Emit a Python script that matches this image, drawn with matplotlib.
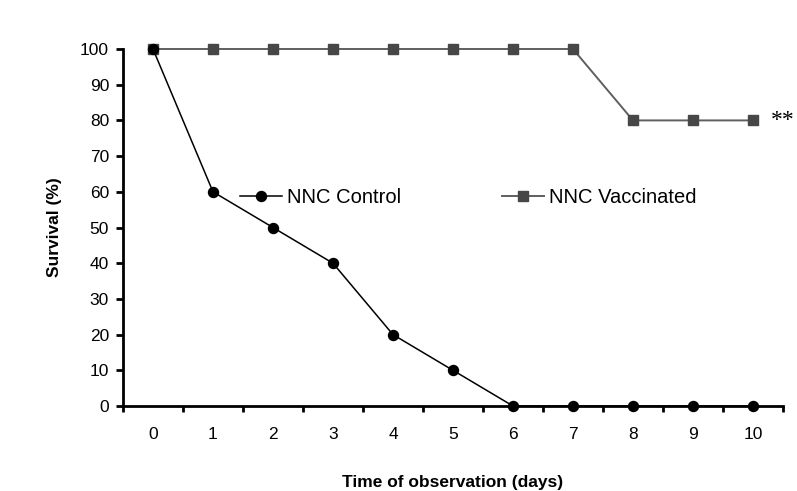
import numpy as np
import matplotlib
matplotlib.use("Agg")
import matplotlib.pyplot as plt
from matplotlib.ticker import FixedLocator

days = [0, 1, 2, 3, 4, 5, 6, 7, 8, 9, 10]
control = [100, 60, 50, 40, 20, 10, 0, 0, 0, 0, 0]
vaccinated = [100, 100, 100, 100, 100, 100, 100, 100, 80, 80, 80]
y_ticks = list(range(0, 101, 10))

plt.rcParams['font.family'] = ['Liberation Sans', 'DejaVu Sans']

fig = plt.figure(figsize=(7.97, 4.91), dpi=100)
ax = fig.add_axes([0.1543, 0.1731, 0.8281, 0.7271])

x = np.arange(len(days))
ax.plot(x, vaccinated, color="#5f5f5f", lw=1.4, marker="s", ms=7.2,
        mfc="#474747", mec="#474747", label="NNC Vaccinated", clip_on=False, zorder=3)
ax.plot(x, control, color="black", lw=1.1, marker="o", ms=7.2,
        mfc="black", mec="black", label="NNC Control", clip_on=False, zorder=4)

ax.set_xlim(-0.5, len(days) - 0.5)
ax.set_ylim(0, 100)

# spines like an old Excel chart
for s in ["top", "right"]:
    ax.spines[s].set_visible(False)
for s in ["left", "bottom"]:
    ax.spines[s].set_linewidth(2.0)

ax.set_yticks(y_ticks)
ax.tick_params(axis="y", direction="out", length=5, width=2, labelsize=12.5, pad=5)
ax.set_xticks(x)
ax.set_xticklabels([str(d) for d in days])
ax.tick_params(axis="x", which="major", length=0, labelsize=12.5, pad=15)
ax.xaxis.set_minor_locator(FixedLocator(np.arange(-0.5, len(days), 1.0)))
ax.tick_params(axis="x", which="minor", direction="out", length=4, width=2)

ax.set_ylabel("Survival (%)", fontsize=12.5, fontweight="bold", labelpad=13)
ax.set_xlabel("Time of observation (days)", fontsize=12.5, fontweight="bold", labelpad=24)

handles, labels = ax.get_legend_handles_labels()
ax.legend(handles[::-1], labels[::-1], ncol=2, frameon=False, loc="center left",
          bbox_to_anchor=(0.177, 0.585), borderpad=0, borderaxespad=0,
          handlelength=2.1, handletextpad=0.25, columnspacing=5.0, fontsize=14.5)

ax.text(len(days) - 1 + 0.3, vaccinated[-1], "**", fontsize=17,
        family="Liberation Serif", va="center", ha="left", clip_on=False)

fig.savefig("out.png", dpi=100)
